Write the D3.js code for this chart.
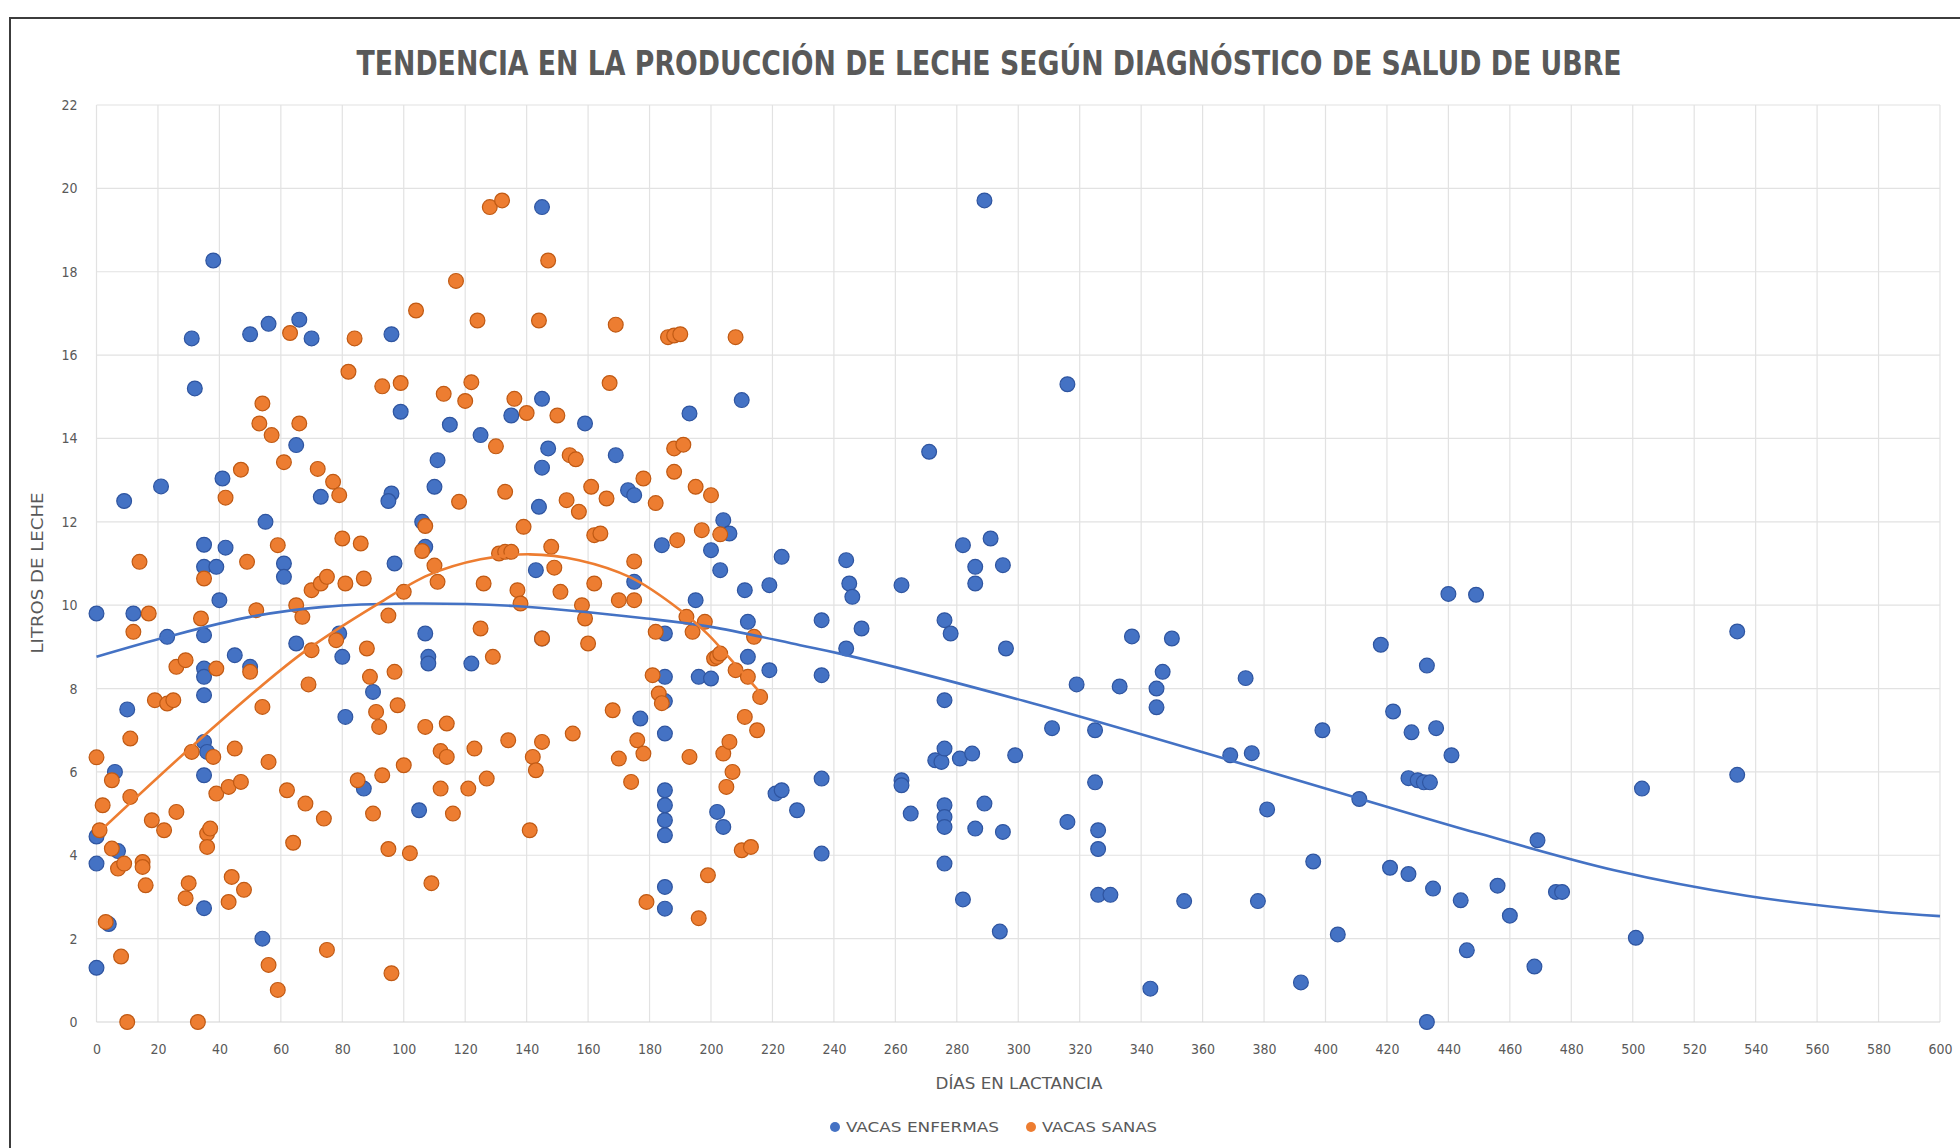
<!DOCTYPE html>
<html>
<head>
<meta charset="utf-8">
<script src="https://cdn.jsdelivr.net/npm/d3@7"></script>
<style>
  body { margin: 0; background: #fff; }
  svg { display: block; }
  .lbl { font-family: "Liberation Sans Narrow", "DejaVu Sans Condensed", "Liberation Sans", sans-serif; fill: #595959; }
</style>
</head>
<body>
<svg id="chart" width="1960" height="1148"></svg>
<script>
// Milk production vs days in lactation, by udder-health diagnosis

const titulo = "TENDENCIA EN LA PRODUCCIÓN DE LECHE SEGÚN DIAGNÓSTICO DE SALUD DE UBRE";
const ejeX = "DÍAS EN LACTANCIA";
const ejeY = "LITROS DE LECHE";
const series = ["VACAS ENFERMAS", "VACAS SANAS"];
const colores = ["#4472C4", "#ED7D31"];
const bordes = ["#2f55a0", "#c05a14"];

const xTicks = d3.range(0, 601, 20);
const yTicks = d3.range(0, 23, 2);

// [días, litros]
const vacasEnfermas = [
  [0,9.8],[0,4.45],[0,3.8],[0,1.3],[4,2.35],[6,6.0],[7,4.1],[9,12.5],[10,7.5],[12,9.8],
  [21,12.85],[23,9.24],[31,16.4],[32,15.2],[35,11.45],[35,10.92],[35,9.28],[35,8.48],[35,8.28],[35,7.84],
  [35,6.72],[36,6.48],[35,5.92],[35,2.73],[38,18.27],[39,10.92],[40,10.12],[41,13.04],[42,11.38],[45,8.8],
  [50,8.52],[50,16.5],[56,16.75],[55,12.0],[54,2.0],[61,11.0],[61,10.68],[65,13.84],[66,16.85],[70,16.4],
  [65,9.08],[73,12.6],[79,9.32],[80,8.76],[81,7.32],[87,5.6],[90,7.92],[96,16.5],[96,12.68],[95,12.5],
  [99,14.64],[97,11.0],[105,5.08],[106,12.0],[107,11.4],[107,9.32],[108,8.76],[108,8.6],[110,12.84],[111,13.48],
  [115,14.33],[122,8.6],[125,14.08],[135,14.55],[144,12.36],[145,13.3],[145,19.55],[145,14.95],[143,10.84],[147,13.76],
  [145,9.2],[159,14.36],[169,13.6],[173,12.76],[175,12.64],[175,10.56],[177,7.28],[184,11.44],[185,9.32],[185,8.28],
  [185,7.7],[185,6.92],[185,5.56],[185,5.2],[185,4.84],[185,4.48],[185,3.24],[185,2.72],[193,14.6],[195,10.12],
  [196,8.28],[200,8.24],[200,11.32],[203,10.84],[202,5.04],[204,4.68],[204,12.04],[206,11.72],[210,14.92],[211,10.36],
  [212,9.6],[212,8.76],[219,10.48],[219,8.44],[221,5.48],[223,5.56],[223,11.16],[228,5.08],[236,9.64],[236,8.32],
  [236,5.84],[236,4.04],[244,11.08],[245,10.52],[246,10.2],[244,8.96],[249,9.44],[262,10.48],[262,5.8],[262,5.68],
  [265,5.0],[271,13.68],[273,6.28],[275,6.24],[276,9.64],[278,9.32],[276,7.72],[276,6.56],[276,5.2],[276,4.92],
  [276,4.68],[276,3.8],[282,11.44],[282,2.94],[281,6.32],[285,6.44],[286,4.64],[286,10.92],[286,10.52],[289,19.71],
  [289,5.24],[291,11.6],[294,2.17],[295,10.96],[295,4.56],[296,8.96],[299,6.4],[311,7.05],[316,15.3],[316,4.8],
  [319,8.1],[325,7.0],[325,5.75],[326,4.6],[326,4.15],[326,3.05],[330,3.05],[333,8.05],[337,9.25],[343,0.8],
  [345,8.0],[345,7.55],[347,8.4],[350,9.2],[354,2.9],[369,6.4],[374,8.25],[376,6.45],[378,2.9],[381,5.1],
  [392,0.95],[396,3.85],[399,7.0],[404,2.1],[411,5.35],[418,9.05],[421,3.7],[422,7.45],[427,3.55],[428,6.95],
  [427,5.85],[430,5.8],[432,5.75],[434,5.75],[433,8.55],[433,0],[435,3.2],[436,7.05],[440,10.27],[441,6.4],
  [444,2.92],[446,1.72],[449,10.25],[456,3.27],[460,2.55],[468,1.33],[469,4.36],[475,3.12],[477,3.12],[501,2.02],
  [503,5.6],[534,9.37],[534,5.93]
];

const vacasSanas = [
  [0,6.35],[1,4.6],[2,5.2],[3,2.4],[5,5.8],[5,4.16],[7,3.68],[8,1.57],[9,3.8],[10,0],
  [11,5.4],[11,6.8],[12,9.36],[14,11.04],[15,3.84],[15,3.72],[16,3.28],[17,9.8],[18,4.84],[19,7.72],
  [22,4.6],[23,7.64],[25,7.72],[26,8.52],[26,5.04],[29,8.68],[29,2.97],[30,3.33],[31,6.48],[33,0],
  [34,9.68],[35,10.64],[36,4.52],[37,4.64],[36,4.2],[38,6.36],[39,8.48],[39,5.48],[42,12.58],[43,5.64],
  [43,2.88],[44,3.48],[45,6.56],[47,5.76],[47,13.25],[48,3.17],[49,11.04],[50,8.4],[52,9.88],[53,14.36],
  [54,14.84],[54,7.56],[56,6.24],[56,1.37],[57,14.08],[59,0.77],[59,11.44],[62,5.56],[63,16.53],[64,4.3],
  [66,14.36],[65,10.0],[67,9.72],[68,5.24],[69,8.1],[70,8.92],[61,13.43],[70,10.36],[72,13.27],[73,10.52],
  [74,4.88],[75,10.68],[75,1.73],[77,12.96],[78,9.16],[79,12.64],[80,11.6],[81,10.52],[82,15.6],[84,16.4],
  [85,5.8],[86,11.48],[87,10.64],[88,8.96],[89,8.28],[90,5.0],[91,7.44],[92,7.08],[93,15.25],[93,5.92],
  [95,9.75],[95,4.15],[96,1.17],[97,8.4],[98,7.6],[99,15.33],[100,10.32],[100,6.16],[102,4.05],[104,17.07],
  [106,11.3],[107,7.08],[107,11.9],[109,3.33],[110,10.95],[111,10.56],[112,6.5],[112,5.6],[113,15.07],[114,7.16],
  [114,6.36],[116,5.0],[117,17.78],[118,12.48],[120,14.9],[121,5.6],[122,15.35],[123,6.56],[124,16.83],[125,9.44],
  [126,10.52],[127,5.84],[128,19.55],[129,8.76],[130,13.81],[132,19.71],[131,11.24],[133,11.28],[133,12.72],[134,6.76],
  [135,11.28],[136,14.95],[137,10.36],[138,10.04],[139,11.88],[140,14.61],[141,4.6],[142,6.36],[143,6.04],[144,16.83],
  [145,6.72],[145,9.2],[147,18.27],[148,11.4],[149,10.9],[150,14.55],[151,10.32],[153,12.52],[154,13.6],[155,6.92],
  [156,13.5],[157,12.24],[158,10.0],[159,9.68],[160,9.08],[161,12.84],[162,10.52],[162,11.68],[164,11.72],[166,12.56],
  [167,15.33],[168,7.48],[169,16.73],[170,6.32],[170,10.12],[174,5.76],[175,10.12],[175,11.05],[176,6.76],[178,6.44],
  [178,13.04],[179,2.88],[181,8.32],[182,12.45],[182,9.36],[183,7.88],[184,7.65],[186,16.43],[188,16.47],[188,13.2],
  [190,16.5],[188,13.76],[189,11.56],[191,13.85],[192,9.72],[193,6.36],[194,9.36],[195,12.84],[196,2.49],[197,11.8],
  [198,9.6],[199,3.52],[200,12.64],[201,8.72],[202,8.76],[203,8.84],[203,11.7],[204,6.44],[205,5.64],[206,6.72],
  [207,6.0],[208,16.43],[208,8.44],[210,4.12],[211,7.32],[212,8.28],[213,4.2],[214,9.24],[215,7.0],[216,7.8]
];

// trend curves
const tendenciaEnfermas = [
  [0,8.76],[23,9.24],[50,9.72],[74,9.96],[101,10.04],[136,9.98],[179,9.68],[200,9.48],[229,9.04],
  [243,8.82],[302,7.7],[379,6.06],[450,4.52],[494,3.64],[537,3.03],[580,2.65],[600,2.54]
];
const tendenciaSanas = [
  [0,4.5],[37,7.0],[67,8.85],[92,10.05],[108,10.72],[125,11.1],[141,11.22],[157,11.08],
  [174,10.66],[190,9.88],[199,9.3],[207,8.65],[216,7.9]
];

const svg = d3.select("#chart");

const x = d3.scaleLinear().domain([0, 600]).range([96.5, 1940]);
const y = d3.scaleLinear().domain([0, 22]).range([1022, 105]);

// outer frame (top + left edges visible)
svg.append("path")
  .attr("d", "M10,1148 V18 H1960")
  .attr("fill", "none")
  .attr("stroke", "#3c3c3c")
  .attr("stroke-width", 2);

// title
svg.append("text")
  .attr("class", "lbl")
  .attr("x", 989)
  .attr("y", 75)
  .attr("text-anchor", "middle")
  .attr("font-size", 33)
  .attr("font-weight", "bold")
  .attr("textLength", 1265)
  .attr("lengthAdjust", "spacingAndGlyphs")
  .text(titulo);

// grid
const grid = svg.append("g");
grid.selectAll(".gx")
  .data(xTicks)
  .enter()
  .append("line")
  .attr("x1", d => x(d)).attr("x2", d => x(d))
  .attr("y1", y(0)).attr("y2", y(22))
  .attr("stroke", "#e2e2e2")
  .attr("stroke-width", 1.2);
grid.selectAll(".gy")
  .data(yTicks)
  .enter()
  .append("line")
  .attr("x1", x(0)).attr("x2", x(600))
  .attr("y1", d => y(d)).attr("y2", d => y(d))
  .attr("stroke", d => d === 0 ? "#d4d4d4" : "#e2e2e2")
  .attr("stroke-width", 1.2);

// axes (labels only)
const ax = svg.append("g")
  .attr("transform", `translate(0,${y(0)})`)
  .call(d3.axisBottom(x).tickValues(xTicks).tickSize(0).tickPadding(22));
const ay = svg.append("g")
  .attr("transform", `translate(${x(0)},0)`)
  .call(d3.axisLeft(y).tickValues(yTicks).tickSize(0).tickPadding(19));
[ax, ay].forEach(g => {
  g.select(".domain").remove();
  g.selectAll("text")
    .attr("class", "lbl")
    .attr("font-size", 14)
    .attr("fill", "#666");
});

// axis titles
svg.append("text")
  .attr("class", "lbl")
  .attr("x", 1019)
  .attr("y", 1089)
  .attr("text-anchor", "middle")
  .attr("font-size", 15)
  .attr("textLength", 167)
  .attr("lengthAdjust", "spacingAndGlyphs")
  .text(ejeX);

svg.append("text")
  .attr("class", "lbl")
  .attr("transform", "translate(43,573) rotate(-90)")
  .attr("text-anchor", "middle")
  .attr("font-size", 15)
  .attr("textLength", 161)
  .attr("lengthAdjust", "spacingAndGlyphs")
  .text(ejeY);

// points
const puntos = [vacasEnfermas, vacasSanas];
puntos.forEach((datos, i) => {
  svg.append("g")
    .selectAll("circle")
    .data(datos)
    .enter()
    .append("circle")
    .attr("cx", d => x(d[0]))
    .attr("cy", d => y(d[1]))
    .attr("r", 7.4)
    .attr("fill", colores[i])
    .attr("stroke", bordes[i])
    .attr("stroke-width", 1.2);
});

// trend lines
const linea = d3.line()
  .x(d => x(d[0]))
  .y(d => y(d[1]))
  .curve(d3.curveCatmullRom);

[tendenciaEnfermas, tendenciaSanas].forEach((t, i) => {
  svg.append("path")
    .datum(t)
    .attr("d", linea)
    .attr("fill", "none")
    .attr("stroke", colores[i])
    .attr("stroke-width", 2.6);
});

// legend
const legX = [835, 1031];
const leyenda = svg.append("g");
series.forEach((s, i) => {
  leyenda.append("circle")
    .attr("cx", legX[i])
    .attr("cy", 1127)
    .attr("r", 5)
    .attr("fill", colores[i]);
  leyenda.append("text")
    .attr("class", "lbl")
    .attr("x", legX[i] + 11)
    .attr("y", 1132)
    .attr("font-size", 14)
    .attr("textLength", i === 0 ? 153 : 115)
    .attr("lengthAdjust", "spacingAndGlyphs")
    .text(s);
});
</script>
</body>
</html>
